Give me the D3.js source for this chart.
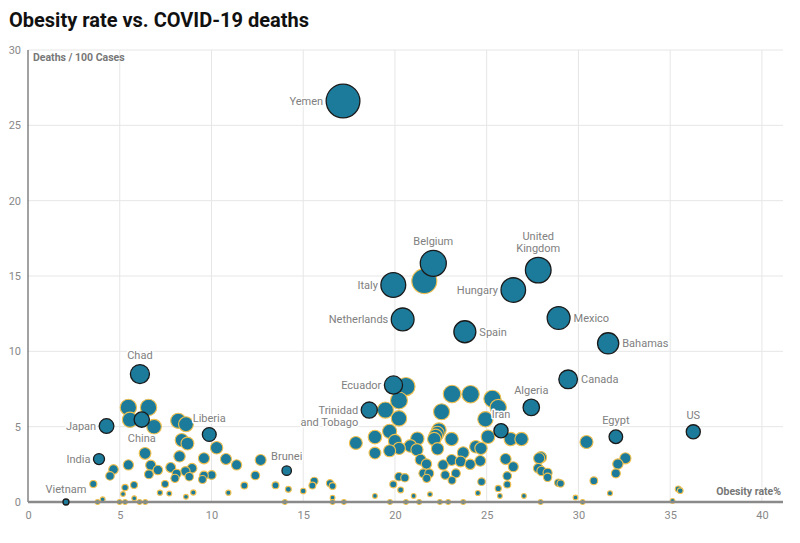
<!DOCTYPE html>
<html><head><meta charset="utf-8">
<script src="https://cdn.jsdelivr.net/npm/d3@7"></script>
<style>body{margin:0;background:#fff;font-family:Roboto,sans-serif}</style>
</head><body><svg id="c" width="800" height="543"></svg>
<script>
const chartTitle = "Obesity rate vs. COVID-19 deaths";
const yAxisTitle = "Deaths / 100 Cases";
const xAxisTitle = "Obesity rate%";
const xTicks = [0, 5, 10, 15, 20, 25, 30, 35, 40];
const yTicks = [0, 5, 10, 15, 20, 25, 30];

const labeledNames = ["Yemen","Belgium","United Kingdom","Italy","Hungary","Netherlands","Spain","Mexico","Bahamas","Canada","Chad","Ecuador","Trinidad and Tobago","Algeria","Iran","Egypt","US","Japan","China","Liberia","India","Brunei","Vietnam"];
const labeledObesity = [17.17,22.09,27.81,19.91,26.45,20.42,23.81,28.92,31.62,29.44,6.10,19.92,18.60,27.43,25.78,32.04,36.26,4.28,6.20,9.88,3.87,14.10,2.07];
const labeledDeaths  = [26.61,15.84,15.39,14.40,14.07,12.12,11.30,12.21,10.53,8.14,8.49,7.76,6.10,6.28,4.73,4.33,4.66,5.04,5.47,4.48,2.85,2.08,0.0];
const labeledSides   = ["left","top","top","left","left","left","right","right","right","right","top","left","left","top","top","top","top","left","bottom","top","left","top","top"];
const labeledLines   = [["Yemen"],["Belgium"],["United","Kingdom"],["Italy"],["Hungary"],["Netherlands"],["Spain"],["Mexico"],["Bahamas"],["Canada"],["Chad"],["Ecuador"],["Trinidad","and Tobago"],["Algeria"],["Iran"],["Egypt"],["US"],["Japan"],["China"],["Liberia"],["India"],["Brunei"],["Vietnam"]];

const otherObesity = [3.56,3.79,4.07,4.47,4.66,4.99,5.29,5.47,6.57,5.56,6.87,8.19,8.61,8.38,8.69,10.28,6.38,5.47,8.26,9.59,10.79,11.37,12.68,6.69,7.08,6.59,7.78,8.10,8.01,8.58,8.94,8.79,9.51,9.59,10.01,7.47,5.78,5.29,5.18,7.19,7.70,8.61,9.01,10.92,11.79,12.39,13.49,5.79,6.08,6.39,14.19,15.00,15.50,15.60,16.46,16.60,16.60,14.00,16.60,17.22,17.87,18.91,18.91,19.71,19.71,20.00,20.23,19.48,20.22,20.22,20.60,19.91,20.22,20.54,20.31,18.91,19.73,20.60,21.02,21.32,21.91,20.84,21.22,21.20,21.40,21.72,21.55,21.87,21.73,22.14,22.22,22.31,22.40,22.32,22.54,23.11,24.12,23.09,22.62,22.74,23.09,23.32,23.11,23.58,23.72,24.10,24.65,24.41,24.69,25.31,25.63,24.93,25.07,26.31,26.90,26.03,26.45,26.12,26.12,25.63,25.72,24.72,24.52,27.03,22.90,23.72,22.45,21.60,27.86,27.96,27.81,27.99,28.32,28.32,28.90,29.03,27.94,29.84,30.23,30.84,31.72,32.15,32.04,32.56,30.44,35.13,35.44,35.55];
const otherDeaths  = [1.19,0.0,0.18,1.73,2.16,0.0,0.0,6.28,6.28,5.46,5.00,5.39,5.16,4.11,3.88,3.60,3.23,2.46,3.03,2.90,2.85,2.46,2.79,2.44,2.12,1.84,2.29,1.88,1.57,2.04,2.24,1.68,1.49,1.76,1.79,1.19,1.13,0.96,0.53,0.62,0.56,0.35,0.63,0.62,1.09,1.76,1.11,0.25,0.0,0.0,0.84,0.73,1.09,1.39,1.24,1.06,0.29,0.0,0.0,0.0,3.92,4.31,3.25,4.69,3.40,4.05,3.56,6.10,6.74,5.55,7.66,1.17,1.68,1.61,0.80,0.40,0.0,0.0,0.40,0.0,0.51,3.72,4.20,3.47,2.81,2.52,1.90,1.90,1.57,4.18,4.38,4.56,4.78,3.53,5.99,7.17,7.15,4.18,2.46,1.79,2.79,1.90,1.44,2.69,3.27,2.50,2.73,3.67,3.56,6.85,6.27,5.49,4.33,4.18,4.18,2.85,2.34,1.73,1.16,0.90,0.40,1.35,0.60,0.40,0.0,0.0,0.0,14.66,2.90,2.97,2.24,2.06,1.94,1.64,1.28,1.23,0.0,0.30,0.0,1.41,0.58,2.52,1.90,2.90,3.98,0.07,0.86,0.75];

const svg = d3.select("#c");
const x = d3.scaleLinear().domain([0, 41.15]).range([28, 783]);
const y = d3.scaleLinear().domain([0, 30]).range([502, 50]);
const r = d3.scaleSqrt().domain([0, 27]).range([0, 17]);
const rad = v => Math.max(2.4, r(v));
const fill = "#1c7b9b";

// title
svg.append("text").attr("x", 9).attr("y", 27).text(chartTitle)
  .attr("font-family", "Roboto").attr("font-weight", 700).attr("font-size", 20).attr("fill", "#111");

// gridlines
svg.append("g").selectAll("line").data(xTicks.filter(d => d > 0)).join("line")
  .attr("x1", d => x(d)).attr("x2", d => x(d)).attr("y1", y(30)).attr("y2", y(0))
  .attr("stroke", "#e6e6e6").attr("stroke-width", 1);
svg.append("g").selectAll("line").data(yTicks.filter(d => d > 0)).join("line")
  .attr("x1", x(0)).attr("x2", 783).attr("y1", d => y(d)).attr("y2", d => y(d))
  .attr("stroke", "#e6e6e6").attr("stroke-width", 1);

// axes
const xAxis = svg.append("g").attr("transform", `translate(0,${y(0)})`)
  .call(d3.axisBottom(x).tickValues(xTicks).tickSize(0).tickPadding(9));
xAxis.select(".domain").remove();
xAxis.selectAll("text").attr("font-family", "Roboto").attr("font-size", 11).attr("fill", "#888");

const yAxis = svg.append("g").attr("transform", `translate(${x(0)},0)`)
  .call(d3.axisLeft(y).tickValues(yTicks).tickSize(0).tickPadding(7));
yAxis.select(".domain").remove();
yAxis.selectAll("text").attr("font-family", "Roboto").attr("font-size", 11).attr("fill", "#888");

svg.append("line").attr("x1", x(0)).attr("x2", x(0)).attr("y1", y(30)).attr("y2", y(0))
  .attr("stroke", "#444").attr("stroke-width", 1);

// axis titles
svg.append("text").attr("x", 33).attr("y", 57).attr("dy", "0.35em").text(yAxisTitle)
  .attr("font-family", "Roboto").attr("font-weight", 700).attr("font-size", 10.5).attr("fill", "#777");

// other bubbles
const others = otherObesity.map((o, i) => ({ o, d: otherDeaths[i] }))
  .sort((a, b) => b.d - a.d);
svg.append("g").selectAll("circle").data(others).join("circle")
  .attr("cx", d => x(d.o)).attr("cy", d => y(d.d)).attr("r", d => rad(d.d))
  .attr("fill", fill).attr("stroke", "#f1c04e").attr("stroke-width", 1.1);

// x axis line
svg.append("line").attr("x1", x(0)).attr("x2", 783).attr("y1", y(0)).attr("y2", y(0))
  .attr("stroke", "#8a8a8a").attr("stroke-width", 2.5);

svg.append("text").attr("x", 781).attr("y", 491).attr("dy", "0.35em").attr("text-anchor", "end").text(xAxisTitle)
  .attr("font-family", "Roboto").attr("font-weight", 700).attr("font-size", 10.5).attr("fill", "#777")
  .attr("stroke", "#fff").attr("stroke-width", 3).attr("paint-order", "stroke");

// labeled bubbles
const labeled = labeledNames.map((n, i) => ({ n, o: labeledObesity[i], d: labeledDeaths[i], side: labeledSides[i], lines: labeledLines[i] }));
svg.append("g").selectAll("circle").data(labeled).join("circle")
  .attr("cx", d => x(d.o)).attr("cy", d => y(d.d)).attr("r", d => Math.max(3, r(d.d)))
  .attr("fill", fill).attr("stroke", "#1a1a1a").attr("stroke-width", 1.3);

const lg = svg.append("g").attr("font-family", "Roboto").attr("font-size", 11).attr("fill", "#808080");
labeled.forEach(d => {
  const cx = x(d.o), cy = y(d.d), rr = Math.max(3, r(d.d));
  const lh = 12;
  d.lines.forEach((line, k) => {
    let tx, ty, anchor;
    const n = d.lines.length;
    if (d.side === "left") { tx = cx - rr - 3; ty = cy + k * lh; anchor = "end"; }
    else if (d.side === "right") { tx = cx + rr + 3.5; ty = cy + k * lh; anchor = "start"; }
    else if (d.side === "top") { tx = cx; ty = cy - rr - 9.5 - (n - 1 - k) * lh; anchor = "middle"; }
    else { tx = cx; ty = cy + rr + 11 + k * lh; anchor = "middle"; }
    lg.append("text").attr("x", tx).attr("y", ty).attr("dy", "0.35em").attr("text-anchor", anchor)
      .attr("stroke", "#fff").attr("stroke-width", 3).attr("stroke-linejoin", "round").attr("paint-order", "stroke")
      .text(line);
  });
});
</script></body></html>
